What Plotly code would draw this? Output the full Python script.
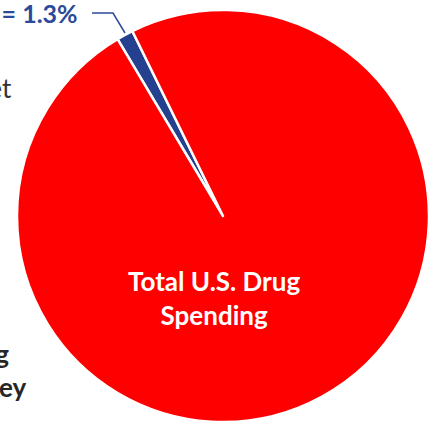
import plotly.graph_objects as go

# Data
slice_labels = ["340B Drug Spending", "Total U.S. Drug Spending"]
slice_values = [1.3, 98.7]
slice_colors = ["#24408E", "#FF0000"]
center_label = "Total U.S. Drug<br>Spending"
callout_label = "340B Drug Spending = 1.3%"

W, H = 437, 423
cx, cy, r = 223, 216, 206

fig = go.Figure(go.Pie(
    labels=slice_labels,
    values=slice_values,
    sort=False,
    direction="clockwise",
    rotation=-30.8,
    marker=dict(colors=slice_colors, line=dict(color="white", width=2.5)),
    textinfo="none",
    hoverinfo="label+percent",
    showlegend=False,
    domain=dict(x=[(cx - r) / W, (cx + r) / W],
                y=[(H - cy - r) / H, (H - cy + r) / H]),
))

def px(x):
    return x / W

def py(y):
    return 1 - y / H

annos = [
    dict(text="<b>" + center_label + "</b>", x=px(214), y=py(298), xanchor="center", yanchor="middle",
         font=dict(family="Lato", size=26, color="white"), showarrow=False, align="center"),
    dict(text="<b>" + callout_label + "</b>", x=px(80), y=py(13), xanchor="right", yanchor="middle",
         font=dict(family="Lato", size=25, color="#2B4A9A"), showarrow=False, align="right"),
    dict(text="340B Market", x=px(14), y=py(88), xanchor="right", yanchor="middle",
         font=dict(family="Lato", size=26, color="#333333"), showarrow=False, align="right"),
    dict(text="<b>Total 340B Drug</b>", x=px(11), y=py(354), xanchor="right", yanchor="middle",
         font=dict(family="Lato", size=26, color="#262626"), showarrow=False, align="right"),
    dict(text="<b>Spending by Key</b>", x=px(29), y=py(387), xanchor="right", yanchor="middle",
         font=dict(family="Lato", size=26, color="#262626"), showarrow=False, align="right"),
]

fig.update_layout(
    width=W, height=H,
    margin=dict(l=0, r=0, t=0, b=0),
    paper_bgcolor="white", plot_bgcolor="white",
    annotations=annos,
    shapes=[dict(type="path", xref="paper", yref="paper",
                 path=f"M {px(92)} {py(13)} L {px(113)} {py(13)} L {px(125)} {py(33)}",
                 line=dict(color="#2B4A9A", width=1.5))],
)

fig.write_html("out.html")
